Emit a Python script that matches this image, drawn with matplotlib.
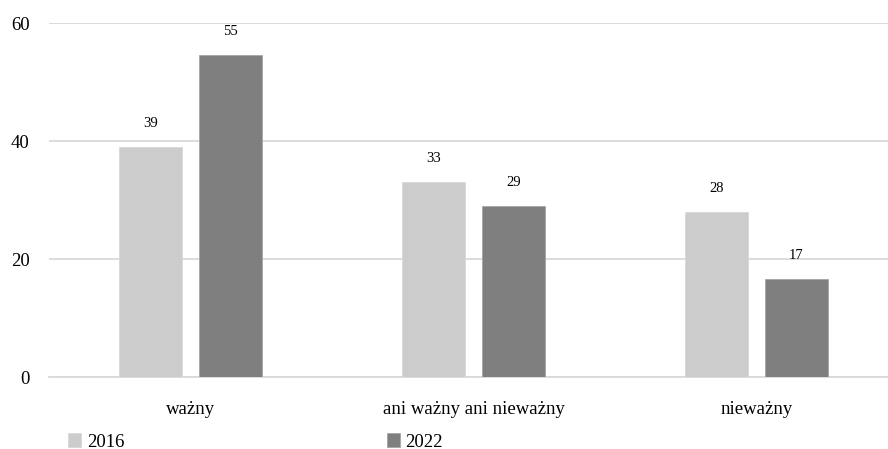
import matplotlib
matplotlib.use("Agg")
import matplotlib.pyplot as plt
import numpy as np

# dane z wykresu
kategorie = ["ważny", "ani ważny ani nieważny", "nieważny"]
lata = ["2016", "2022"]
wartosci_2016 = [39, 33, 28]
wartosci_2022 = [54.6, 28.9, 16.6]
kolory = ["#cccccc", "#7f7f7f"]

plt.rcParams['font.family'] = ['Liberation Serif', 'DejaVu Serif']

fig = plt.figure(figsize=(8.88, 4.49), dpi=100)
ax = fig.add_axes([49/888, 72/449, 1 - 49/888, 354/449])

pos = np.arange(len(kategorie))
width = 0.223
off = 0.1413

b1 = ax.bar(pos - off, wartosci_2016, width, color=kolory[0], edgecolor="#d9d9d9",
            linewidth=0.6, label=lata[0], zorder=3)
b2 = ax.bar(pos + off, wartosci_2022, width, color=kolory[1], edgecolor="#a6a6a6",
            linewidth=0.6, label=lata[1], zorder=3)

for bars, vals in ((b1, wartosci_2016), (b2, wartosci_2022)):
	for b, v in zip(bars, vals):
		ax.text(b.get_x() + b.get_width()/2, v + 4.0, str(int(round(v))),
				ha='center', va='center', fontsize=10.5, color="#000000")

ax.set_xlim(-0.5, -0.5 + 839/283)
ax.set_ylim(0, 60)
ax.set_yticks([0, 20, 40, 60])
ax.set_xticks(pos)
ax.set_xticklabels(kategorie)
ax.tick_params(axis='both', length=0, labelsize=13.5)
ax.tick_params(axis='y', pad=14)
ax.tick_params(axis='x', pad=17)
ax.yaxis.grid(True, color="#d9d9d9", linewidth=1.3, zorder=0)
ax.set_axisbelow(True)
for s in ['top', 'right', 'left']:
	ax.spines[s].set_visible(False)
ax.spines['bottom'].set_color("#d9d9d9")
ax.spines['bottom'].set_linewidth(1.3)

leg = fig.legend(handles=[b1, b2], labels=lata, ncol=2, loc='center left',
				 bbox_to_anchor=(68/888, 1 - 442/449), frameon=False, fontsize=13.5,
				 handlelength=0.7, handleheight=0.7, handletextpad=0.3,
				 columnspacing=14.0, borderpad=0, borderaxespad=0)

fig.savefig("out.png", dpi=100)
